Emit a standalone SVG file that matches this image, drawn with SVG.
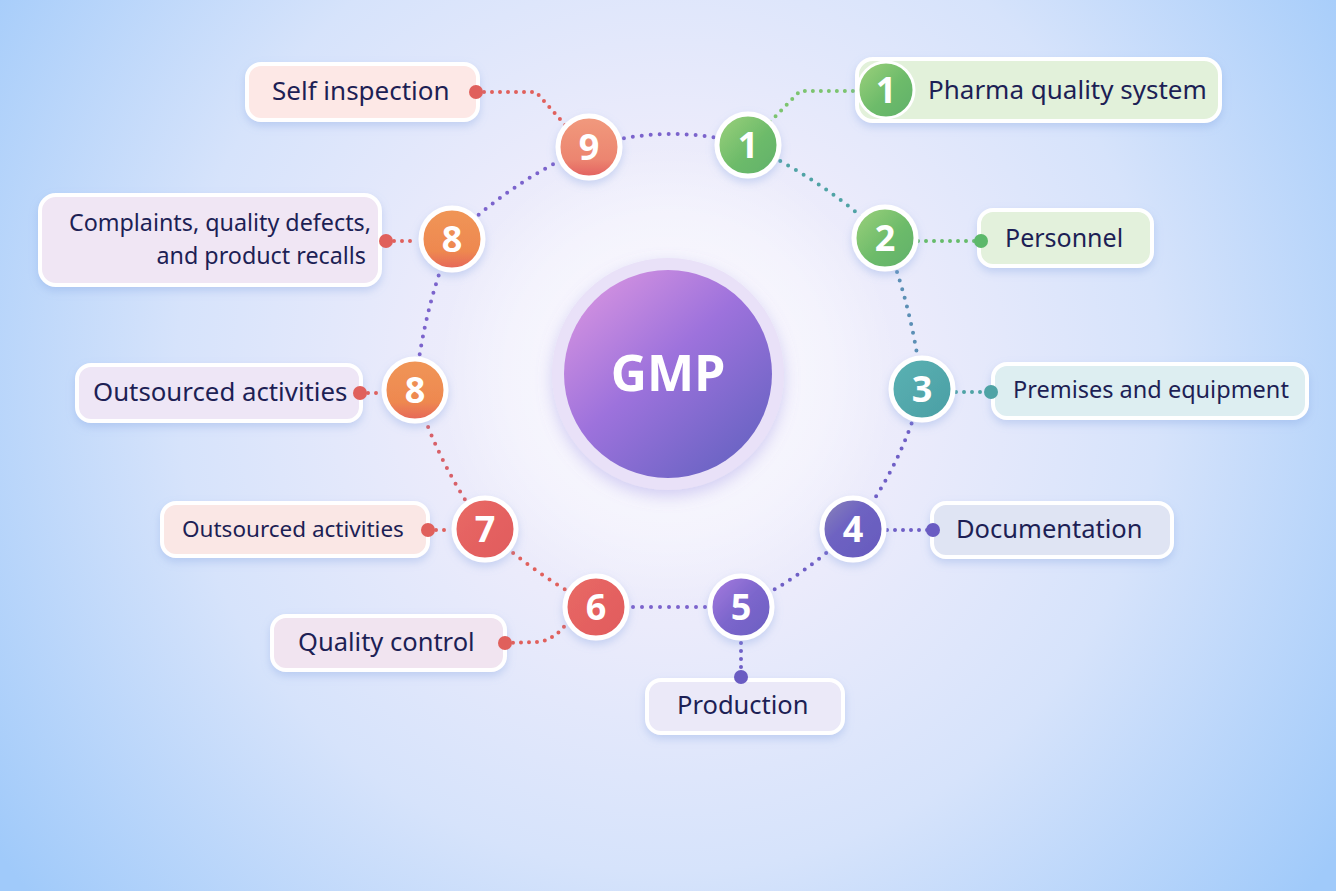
<svg xmlns="http://www.w3.org/2000/svg" width="1336" height="891" viewBox="0 0 1336 891">
<defs>
  <radialGradient id="bg" cx="668" cy="380" r="820" gradientUnits="userSpaceOnUse">
    <stop offset="0" stop-color="#f4f1fd"/>
    <stop offset="0.3" stop-color="#ebebfb"/>
    <stop offset="0.6" stop-color="#d6e3fb"/>
    <stop offset="1" stop-color="#a0cafa"/>
  </radialGradient>
  <radialGradient id="glow" cx="668" cy="375" r="230" gradientUnits="userSpaceOnUse">
    <stop offset="0" stop-color="#ffffff" stop-opacity="0.75"/>
    <stop offset="0.7" stop-color="#ffffff" stop-opacity="0.35"/>
    <stop offset="1" stop-color="#ffffff" stop-opacity="0"/>
  </radialGradient>
  <linearGradient id="gmp" x1="0.15" y1="0.1" x2="0.85" y2="0.9">
    <stop offset="0" stop-color="#cf8fe0"/>
    <stop offset="0.45" stop-color="#9d72dc"/>
    <stop offset="1" stop-color="#6b64c4"/>
  </linearGradient>
  <linearGradient id="gGreen" x1="0" y1="0" x2="1" y2="1">
    <stop offset="0" stop-color="#9ed27c"/>
    <stop offset="0.55" stop-color="#6dbb6a"/>
    <stop offset="1" stop-color="#5fb06a"/>
  </linearGradient>
  <linearGradient id="gTeal" x1="0" y1="0" x2="1" y2="1">
    <stop offset="0" stop-color="#5bb2b3"/>
    <stop offset="1" stop-color="#4a9ea4"/>
  </linearGradient>
  <linearGradient id="gPurple4" x1="0" y1="0" x2="1" y2="1">
    <stop offset="0" stop-color="#8c86b8"/>
    <stop offset="0.4" stop-color="#6e63c2"/>
    <stop offset="1" stop-color="#6659bd"/>
  </linearGradient>
  <linearGradient id="gPurple5" x1="0" y1="0" x2="1" y2="1">
    <stop offset="0" stop-color="#a97ce0"/>
    <stop offset="0.5" stop-color="#7c66cc"/>
    <stop offset="1" stop-color="#6a5fc0"/>
  </linearGradient>
  <linearGradient id="gRed" x1="0" y1="0" x2="1" y2="1">
    <stop offset="0" stop-color="#e96a66"/>
    <stop offset="1" stop-color="#e05a5c"/>
  </linearGradient>
  <linearGradient id="gOrange" x1="0" y1="0" x2="0" y2="1">
    <stop offset="0" stop-color="#f09656"/>
    <stop offset="0.7" stop-color="#ee8850"/>
    <stop offset="1" stop-color="#e5645a"/>
  </linearGradient>
  <linearGradient id="gSalmon" x1="0" y1="0" x2="0" y2="1">
    <stop offset="0" stop-color="#f19a7d"/>
    <stop offset="0.7" stop-color="#ec8570"/>
    <stop offset="1" stop-color="#e25f60"/>
  </linearGradient>
  <filter id="sh" x="-20%" y="-30%" width="140%" height="160%">
    <feDropShadow dx="0" dy="4" stdDeviation="4" flood-color="#7f9fe0" flood-opacity="0.35"/>
  </filter>
  <filter id="shBig" x="-20%" y="-20%" width="140%" height="140%">
    <feDropShadow dx="0" dy="6" stdDeviation="8" flood-color="#8a7fe0" flood-opacity="0.35"/>
  </filter>
</defs>
<style>
  .pill { stroke: #ffffff; stroke-width: 4; filter: url(#sh); }
  .lbl { font-family: "Noto Sans", "Open Sans", "Liberation Sans", sans-serif; fill: #1d1f55; }
  .num { font-family: "Noto Sans", "Open Sans", "Liberation Sans", sans-serif; font-weight: 700; fill: #ffffff; font-size: 36px; text-anchor: middle; }
  .ring { fill: none; stroke-width: 4; stroke-linecap: round; stroke-dasharray: 0 9; }
  .lnk { fill: none; stroke-width: 4; stroke-linecap: round; stroke-dasharray: 0 8; }
  .nc { stroke: #ffffff; stroke-width: 5; filter: url(#sh); }
</style>

<rect x="0" y="0" width="1336" height="891" fill="url(#bg)"/>
<circle cx="668" cy="375" r="240" fill="url(#glow)"/>

<g id="connectors">
  <path class="ring" stroke="#7b63cc" d="M589,147 Q668,122 748,145"/>
  <path class="ring" stroke="#4fa3a5" d="M748,145 Q825,180 885,238"/>
  <path class="ring" stroke="#5b8fb5" d="M885,238 Q913,310 922,389"/>
  <path class="ring" stroke="#6f5fc6" d="M922,389 Q903,465 853,529"/>
  <path class="ring" stroke="#6f5fc6" d="M853,529 Q800,580 741,607"/>
  <path class="ring" stroke="#7b63cc" d="M741,607 L596,607"/>
  <path class="ring" stroke="#e0605c" d="M596,607 Q535,575 485,529"/>
  <path class="ring" stroke="#d86068" d="M485,529 Q438,465 415,390"/>
  <path class="ring" stroke="#7b63cc" d="M415,390 Q423,310 452,239"/>
  <path class="ring" stroke="#7b63cc" d="M452,239 Q512,180 589,147"/>

  <path class="lnk" stroke="#e0605c" d="M476,92 L536,92 L568,128"/>
  <path class="lnk" stroke="#7cc46f" d="M770,122 L800,91 L858,91"/>
  <path class="lnk" stroke="#66bb6a" d="M918,241 L981,241"/>
  <path class="lnk" stroke="#4fa3a5" d="M956,392 L991,392"/>
  <path class="lnk" stroke="#6f5fc6" d="M887,530 L933,530"/>
  <path class="lnk" stroke="#6f5fc6" d="M741,643 L741,677"/>
  <path class="lnk" stroke="#e0605c" d="M505,643 L540,642 Q556,638 566,624"/>
  <path class="lnk" stroke="#e0605c" d="M428,530 L452,530"/>
  <path class="lnk" stroke="#e0605c" d="M360,393 L381,393"/>
  <path class="lnk" stroke="#e0605c" d="M386,241 L418,241"/>
</g>

<g id="gmp">
  <circle cx="668" cy="374" r="116" fill="#e9e1f8" filter="url(#shBig)"/>
  <circle cx="668" cy="374" r="104" fill="url(#gmp)"/>
  <text x="668" y="391" text-anchor="middle" font-family="Noto Sans, Open Sans, Liberation Sans, sans-serif" font-weight="700" font-size="50" fill="#ffffff">GMP</text>
</g>

<g id="n9">
  <circle class="nc" cx="589" cy="147" r="31" fill="url(#gSalmon)"/>
  <text class="num" x="589" y="160">9</text>
</g>
<g id="self-inspection">
  <rect class="pill" x="247" y="64" width="231" height="56" rx="14" fill="#fde8e6"/>
  <text class="lbl" x="272" y="100" font-size="26">Self inspection</text>
  <circle cx="476" cy="92" r="7" fill="#e0605c"/>
</g>

<g id="n1">
  <circle class="nc" cx="748" cy="145" r="31" fill="url(#gGreen)"/>
  <text class="num" x="748" y="158">1</text>
</g>
<g id="pharma">
  <rect class="pill" x="857" y="59" width="363" height="62" rx="16" fill="#e2f1da"/>
  <circle cx="886" cy="90" r="28" fill="url(#gGreen)" stroke="#ffffff" stroke-width="3"/>
  <text class="num" x="886" y="103">1</text>
  <text class="lbl" x="928" y="99" font-size="26">Pharma quality system</text>
</g>

<g id="n2">
  <circle class="nc" cx="885" cy="238" r="31" fill="url(#gGreen)"/>
  <text class="num" x="885" y="251">2</text>
</g>
<g id="personnel">
  <rect class="pill" x="979" y="210" width="173" height="56" rx="14" fill="#e3f1dc"/>
  <text class="lbl" x="1005" y="247" font-size="25">Personnel</text>
  <circle cx="981" cy="241" r="7" fill="#5cb86a"/>
</g>

<g id="n3">
  <circle class="nc" cx="922" cy="389" r="31" fill="url(#gTeal)"/>
  <text class="num" x="922" y="402">3</text>
</g>
<g id="premises">
  <rect class="pill" x="993" y="364" width="314" height="54" rx="14" fill="#ddeef1"/>
  <text class="lbl" x="1013" y="398" font-size="23.5">Premises and equipment</text>
  <circle cx="991" cy="392" r="7" fill="#4fa3a5"/>
</g>

<g id="n4">
  <circle class="nc" cx="853" cy="529" r="31" fill="url(#gPurple4)"/>
  <text class="num" x="853" y="542">4</text>
</g>
<g id="documentation">
  <rect class="pill" x="932" y="503" width="240" height="54" rx="14" fill="#dfe4f3"/>
  <text class="lbl" x="956" y="538" font-size="25.5">Documentation</text>
  <circle cx="933" cy="530" r="7" fill="#6a5cc2"/>
</g>

<g id="n5">
  <circle class="nc" cx="741" cy="607" r="31" fill="url(#gPurple5)"/>
  <text class="num" x="741" y="620">5</text>
</g>
<g id="production">
  <rect class="pill" x="647" y="680" width="196" height="53" rx="14" fill="#ebe9f8"/>
  <text class="lbl" x="677" y="714" font-size="25.5">Production</text>
  <circle cx="741" cy="677" r="7" fill="#6a5cc2"/>
</g>

<g id="n6">
  <circle class="nc" cx="596" cy="607" r="31" fill="url(#gRed)"/>
  <text class="num" x="596" y="620">6</text>
</g>
<g id="quality-control">
  <rect class="pill" x="272" y="616" width="233" height="54" rx="14" fill="#f1e4f0"/>
  <text class="lbl" x="298" y="651" font-size="25.5">Quality control</text>
  <circle cx="505" cy="643" r="7" fill="#e0605c"/>
</g>

<g id="n7">
  <circle class="nc" cx="485" cy="529" r="31" fill="url(#gRed)"/>
  <text class="num" x="485" y="542">7</text>
</g>
<g id="outsourced-7">
  <rect class="pill" x="162" y="503" width="266" height="53" rx="14" fill="#fae7e5"/>
  <text class="lbl" x="182" y="537" font-size="22.5">Outsourced activities</text>
  <circle cx="428" cy="530" r="7" fill="#e0605c"/>
</g>

<g id="n8a">
  <circle class="nc" cx="415" cy="390" r="31" fill="url(#gOrange)"/>
  <text class="num" x="415" y="403">8</text>
</g>
<g id="outsourced-8">
  <rect class="pill" x="77" y="365" width="284" height="56" rx="14" fill="#eee6f6"/>
  <text class="lbl" x="93" y="401" font-size="25.8">Outsourced activities</text>
  <circle cx="360" cy="393" r="7" fill="#e0605c"/>
</g>

<g id="n8b">
  <circle class="nc" cx="452" cy="239" r="31" fill="url(#gOrange)"/>
  <text class="num" x="452" y="252">8</text>
</g>
<g id="complaints">
  <rect class="pill" x="40" y="195" width="340" height="90" rx="16" fill="#f0e6f4"/>
  <text class="lbl" x="371" y="231" font-size="23.3" text-anchor="end">Complaints, quality defects,</text>
  <text class="lbl" x="366" y="264" font-size="23.3" text-anchor="end">and product recalls</text>
  <circle cx="386" cy="241" r="7" fill="#e0605c"/>
</g>
</svg>
